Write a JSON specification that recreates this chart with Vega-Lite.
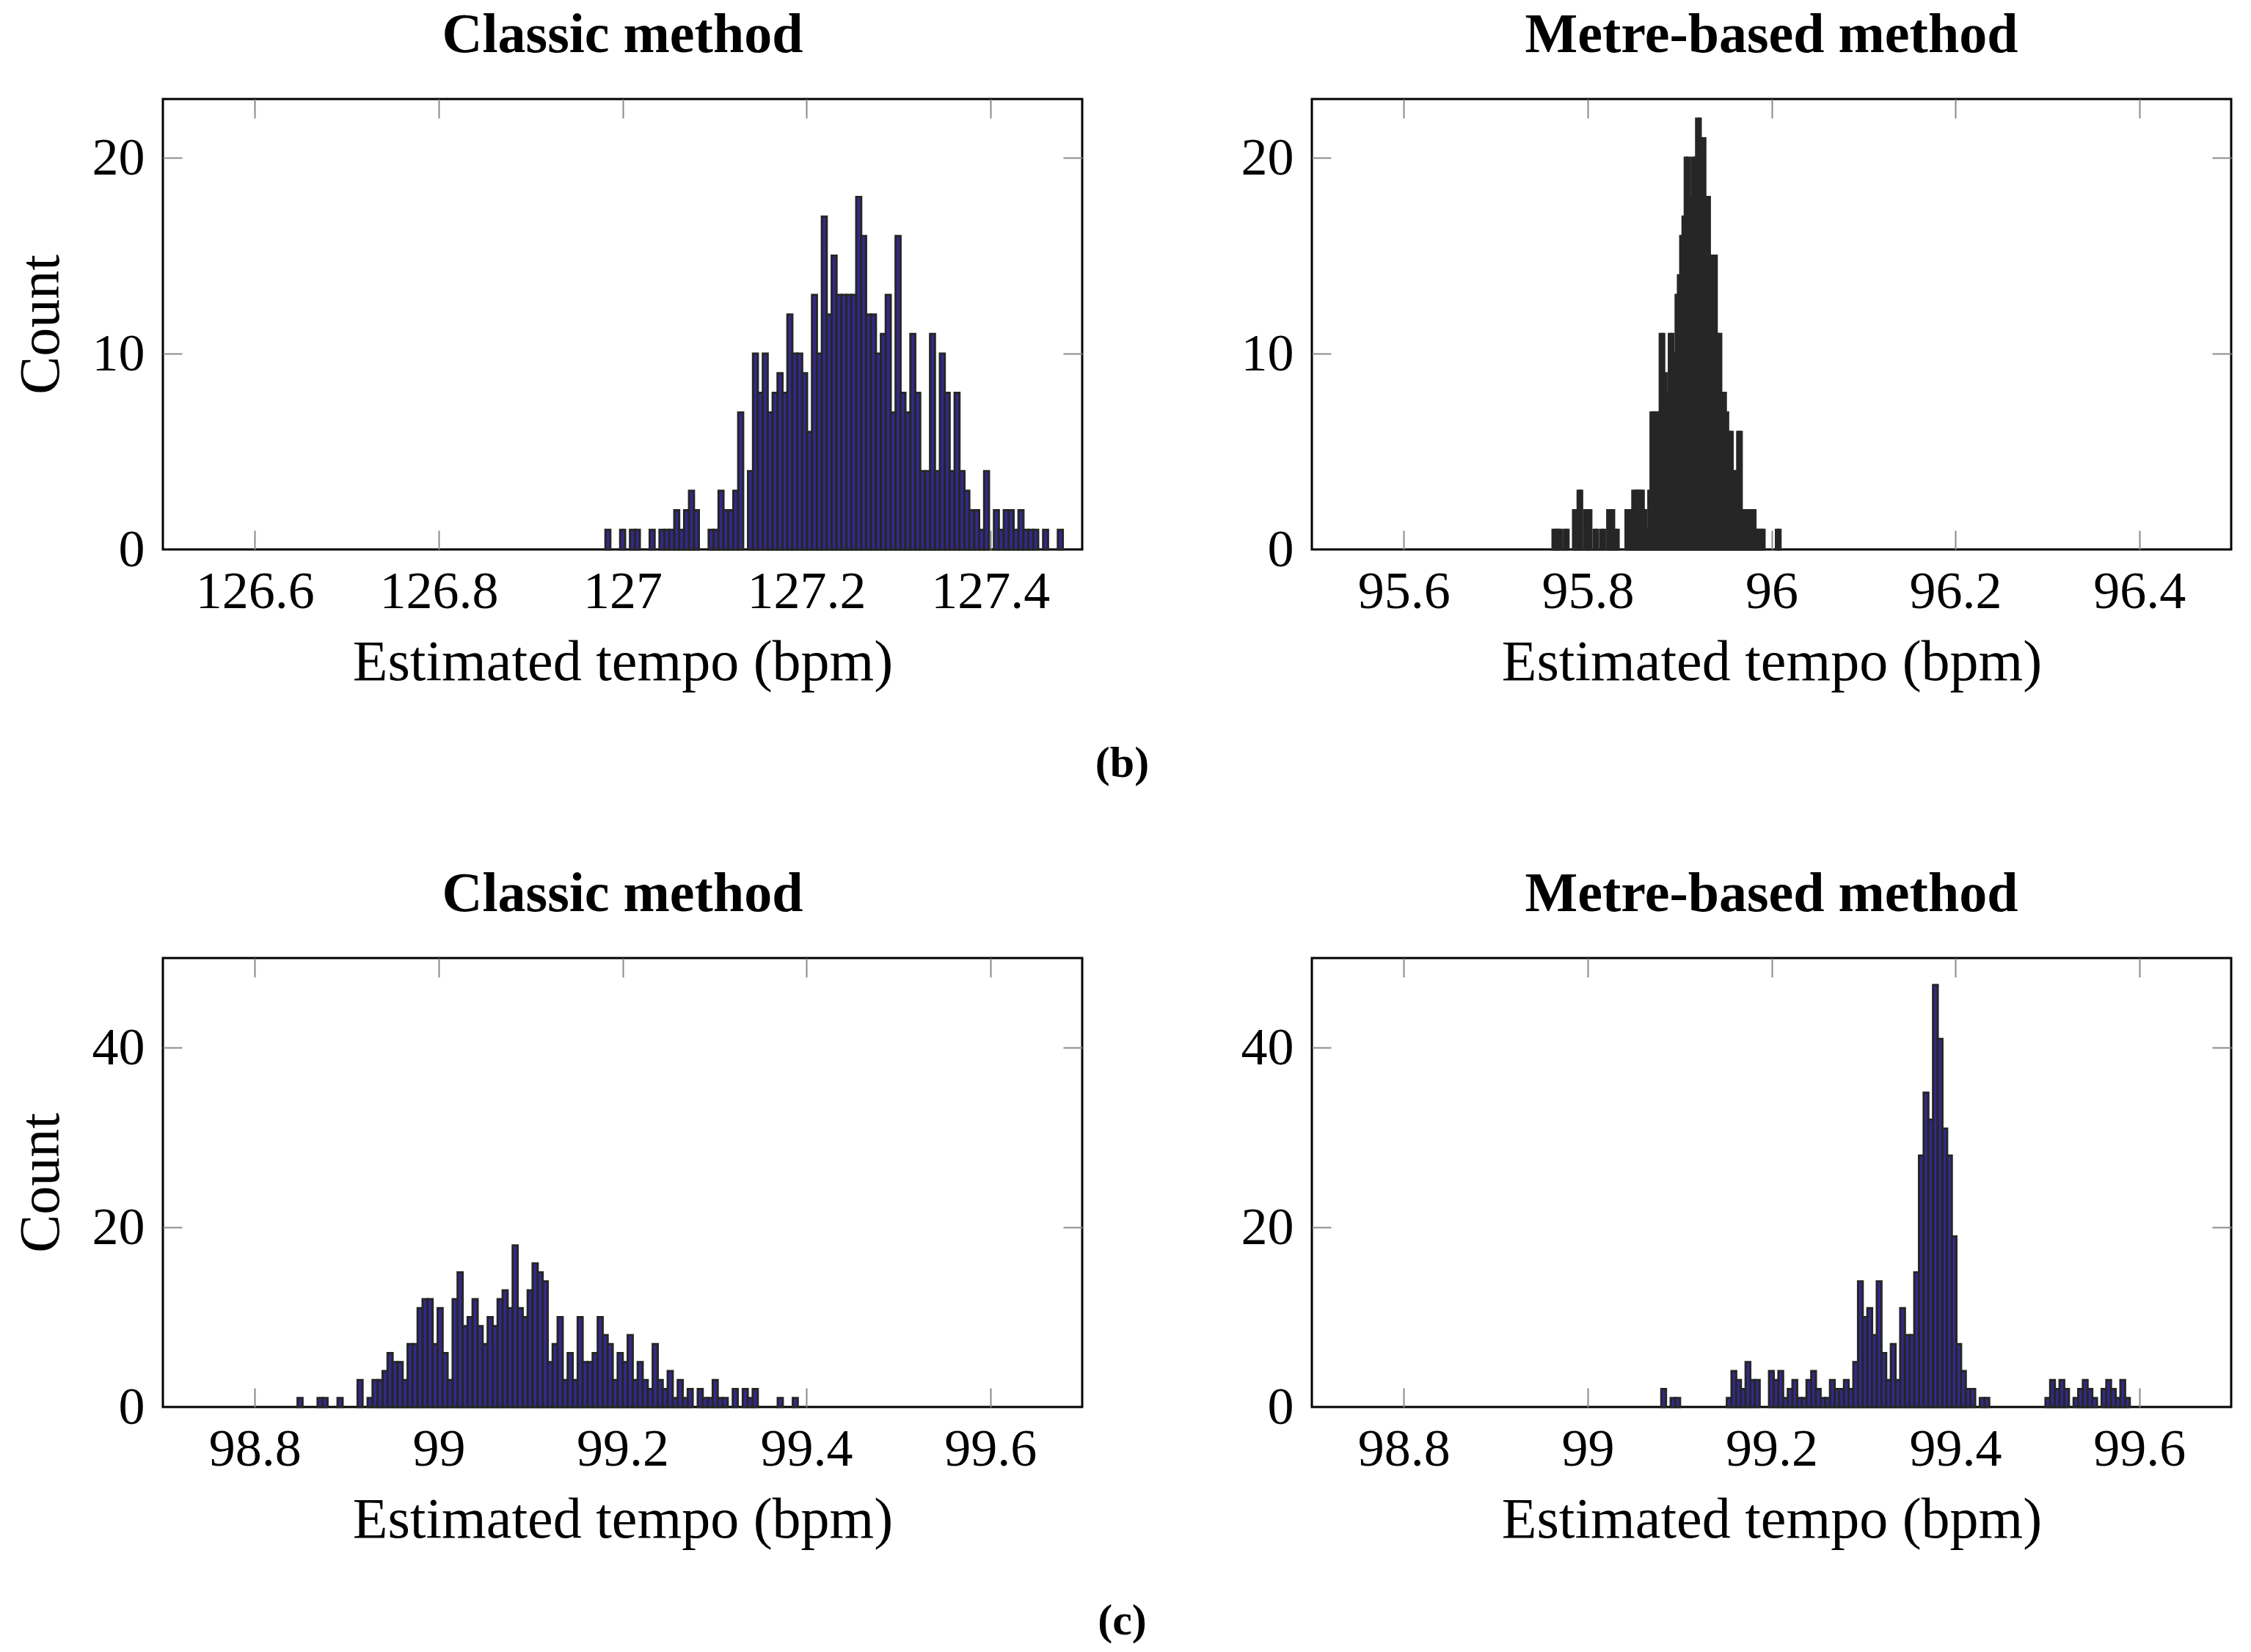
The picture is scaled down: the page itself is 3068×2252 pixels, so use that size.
{
  "$schema": "https://vega.github.io/schema/vega-lite/v6.json",
  "background": "white",
  "padding": {"left": 15, "top": 8, "right": 0, "bottom": 0},
  "config": {
    "font": "Liberation Serif",
    "view": {"stroke": "#000000", "strokeWidth": 3},
    "title": {"font": "Liberation Serif", "fontSize": 76, "fontWeight": "bold", "color": "#000000", "offset": 47, "anchor": "middle"},
    "axis": {
      "domain": false, "grid": false,
      "tickColor": "#8a8a8a", "tickWidth": 2, "tickSize": -26,
      "labelFont": "Liberation Serif", "labelFontSize": 72, "labelColor": "#000000", "labelPadding": 48,
      "labelOverlap": false, "labelFlush": false,
      "titleFont": "Liberation Serif", "titleFontSize": 78, "titleFontWeight": "normal", "titleColor": "#000000"
    },
    "axisX": {"titlePadding": 22},
    "axisY": {"labelPadding": 51, "titlePadding": 30}
  },
  "datasets": {
    "b_classic": [
      {"lo": 126.9814, "hi": 126.9867, "n": 1}, {"lo": 126.9974, "hi": 127.0028, "n": 1},
      {"lo": 127.0081, "hi": 127.0135, "n": 1}, {"lo": 127.0135, "hi": 127.0188, "n": 1},
      {"lo": 127.0295, "hi": 127.0349, "n": 1}, {"lo": 127.0402, "hi": 127.0456, "n": 1},
      {"lo": 127.0456, "hi": 127.0509, "n": 1}, {"lo": 127.0509, "hi": 127.0563, "n": 1},
      {"lo": 127.0563, "hi": 127.0616, "n": 2}, {"lo": 127.0616, "hi": 127.0670, "n": 1},
      {"lo": 127.0670, "hi": 127.0723, "n": 2}, {"lo": 127.0723, "hi": 127.0777, "n": 3},
      {"lo": 127.0777, "hi": 127.0830, "n": 2}, {"lo": 127.0937, "hi": 127.0991, "n": 1},
      {"lo": 127.0991, "hi": 127.1044, "n": 1}, {"lo": 127.1044, "hi": 127.1098, "n": 3},
      {"lo": 127.1098, "hi": 127.1151, "n": 2}, {"lo": 127.1151, "hi": 127.1205, "n": 2},
      {"lo": 127.1205, "hi": 127.1258, "n": 3}, {"lo": 127.1258, "hi": 127.1312, "n": 7},
      {"lo": 127.1365, "hi": 127.1419, "n": 4}, {"lo": 127.1419, "hi": 127.1472, "n": 10},
      {"lo": 127.1472, "hi": 127.1526, "n": 8}, {"lo": 127.1526, "hi": 127.1579, "n": 10},
      {"lo": 127.1579, "hi": 127.1633, "n": 7}, {"lo": 127.1633, "hi": 127.1686, "n": 8},
      {"lo": 127.1686, "hi": 127.1740, "n": 9}, {"lo": 127.1740, "hi": 127.1793, "n": 8},
      {"lo": 127.1793, "hi": 127.1847, "n": 12}, {"lo": 127.1847, "hi": 127.1900, "n": 10},
      {"lo": 127.1900, "hi": 127.1954, "n": 10}, {"lo": 127.1954, "hi": 127.2007, "n": 9},
      {"lo": 127.2007, "hi": 127.2061, "n": 6}, {"lo": 127.2061, "hi": 127.2114, "n": 13},
      {"lo": 127.2114, "hi": 127.2168, "n": 10}, {"lo": 127.2168, "hi": 127.2221, "n": 17},
      {"lo": 127.2221, "hi": 127.2275, "n": 12}, {"lo": 127.2275, "hi": 127.2328, "n": 15},
      {"lo": 127.2328, "hi": 127.2382, "n": 13}, {"lo": 127.2382, "hi": 127.2435, "n": 13},
      {"lo": 127.2435, "hi": 127.2489, "n": 13}, {"lo": 127.2489, "hi": 127.2542, "n": 13},
      {"lo": 127.2542, "hi": 127.2596, "n": 18}, {"lo": 127.2596, "hi": 127.2649, "n": 16},
      {"lo": 127.2649, "hi": 127.2703, "n": 12}, {"lo": 127.2703, "hi": 127.2756, "n": 12},
      {"lo": 127.2756, "hi": 127.2810, "n": 10}, {"lo": 127.2810, "hi": 127.2863, "n": 11},
      {"lo": 127.2863, "hi": 127.2917, "n": 13}, {"lo": 127.2917, "hi": 127.2970, "n": 7},
      {"lo": 127.2970, "hi": 127.3024, "n": 16}, {"lo": 127.3024, "hi": 127.3077, "n": 8},
      {"lo": 127.3077, "hi": 127.3131, "n": 7}, {"lo": 127.3131, "hi": 127.3184, "n": 11},
      {"lo": 127.3184, "hi": 127.3238, "n": 8}, {"lo": 127.3238, "hi": 127.3291, "n": 4},
      {"lo": 127.3291, "hi": 127.3345, "n": 4}, {"lo": 127.3345, "hi": 127.3398, "n": 11},
      {"lo": 127.3398, "hi": 127.3452, "n": 4}, {"lo": 127.3452, "hi": 127.3505, "n": 10},
      {"lo": 127.3505, "hi": 127.3558, "n": 8}, {"lo": 127.3558, "hi": 127.3612, "n": 4},
      {"lo": 127.3612, "hi": 127.3665, "n": 8}, {"lo": 127.3665, "hi": 127.3719, "n": 4},
      {"lo": 127.3719, "hi": 127.3772, "n": 3}, {"lo": 127.3772, "hi": 127.3826, "n": 2},
      {"lo": 127.3826, "hi": 127.3879, "n": 2}, {"lo": 127.3879, "hi": 127.3933, "n": 1},
      {"lo": 127.3933, "hi": 127.3986, "n": 4}, {"lo": 127.4040, "hi": 127.4093, "n": 2},
      {"lo": 127.4093, "hi": 127.4147, "n": 1}, {"lo": 127.4147, "hi": 127.4200, "n": 2},
      {"lo": 127.4200, "hi": 127.4254, "n": 2}, {"lo": 127.4254, "hi": 127.4307, "n": 1},
      {"lo": 127.4307, "hi": 127.4361, "n": 2}, {"lo": 127.4361, "hi": 127.4414, "n": 1},
      {"lo": 127.4414, "hi": 127.4468, "n": 1}, {"lo": 127.4468, "hi": 127.4521, "n": 1},
      {"lo": 127.4575, "hi": 127.4628, "n": 1}, {"lo": 127.4735, "hi": 127.4789, "n": 1}
    ],
    "b_metre": [
      {"lo": 95.7618, "hi": 95.7643, "n": 1}, {"lo": 95.7643, "hi": 95.7668, "n": 1},
      {"lo": 95.7668, "hi": 95.7692, "n": 1}, {"lo": 95.7692, "hi": 95.7717, "n": 1},
      {"lo": 95.7742, "hi": 95.7767, "n": 1}, {"lo": 95.7767, "hi": 95.7792, "n": 1},
      {"lo": 95.7841, "hi": 95.7866, "n": 2}, {"lo": 95.7866, "hi": 95.7891, "n": 2},
      {"lo": 95.7891, "hi": 95.7916, "n": 3}, {"lo": 95.7916, "hi": 95.7940, "n": 3},
      {"lo": 95.7965, "hi": 95.7990, "n": 2}, {"lo": 95.7990, "hi": 95.8015, "n": 2},
      {"lo": 95.8015, "hi": 95.8040, "n": 2}, {"lo": 95.8064, "hi": 95.8089, "n": 1},
      {"lo": 95.8089, "hi": 95.8114, "n": 1}, {"lo": 95.8139, "hi": 95.8164, "n": 1},
      {"lo": 95.8164, "hi": 95.8188, "n": 1}, {"lo": 95.8213, "hi": 95.8238, "n": 2},
      {"lo": 95.8238, "hi": 95.8263, "n": 2}, {"lo": 95.8263, "hi": 95.8288, "n": 2},
      {"lo": 95.8288, "hi": 95.8312, "n": 1}, {"lo": 95.8312, "hi": 95.8337, "n": 1},
      {"lo": 95.8412, "hi": 95.8436, "n": 2}, {"lo": 95.8436, "hi": 95.8461, "n": 2},
      {"lo": 95.8461, "hi": 95.8486, "n": 2}, {"lo": 95.8486, "hi": 95.8511, "n": 3},
      {"lo": 95.8511, "hi": 95.8536, "n": 3}, {"lo": 95.8536, "hi": 95.8560, "n": 3},
      {"lo": 95.8560, "hi": 95.8585, "n": 3}, {"lo": 95.8585, "hi": 95.8610, "n": 3},
      {"lo": 95.8610, "hi": 95.8635, "n": 2}, {"lo": 95.8635, "hi": 95.8660, "n": 1},
      {"lo": 95.8660, "hi": 95.8684, "n": 3}, {"lo": 95.8684, "hi": 95.8709, "n": 7},
      {"lo": 95.8709, "hi": 95.8734, "n": 7}, {"lo": 95.8734, "hi": 95.8759, "n": 7},
      {"lo": 95.8759, "hi": 95.8784, "n": 7}, {"lo": 95.8784, "hi": 95.8808, "n": 11},
      {"lo": 95.8808, "hi": 95.8833, "n": 11}, {"lo": 95.8833, "hi": 95.8858, "n": 9},
      {"lo": 95.8858, "hi": 95.8883, "n": 8}, {"lo": 95.8883, "hi": 95.8908, "n": 11},
      {"lo": 95.8908, "hi": 95.8932, "n": 11}, {"lo": 95.8932, "hi": 95.8957, "n": 10},
      {"lo": 95.8957, "hi": 95.8982, "n": 13}, {"lo": 95.8982, "hi": 95.9007, "n": 14},
      {"lo": 95.9007, "hi": 95.9032, "n": 16}, {"lo": 95.9032, "hi": 95.9056, "n": 17},
      {"lo": 95.9056, "hi": 95.9081, "n": 20}, {"lo": 95.9081, "hi": 95.9106, "n": 20},
      {"lo": 95.9106, "hi": 95.9131, "n": 18}, {"lo": 95.9131, "hi": 95.9156, "n": 20},
      {"lo": 95.9156, "hi": 95.9180, "n": 20}, {"lo": 95.9180, "hi": 95.9205, "n": 22},
      {"lo": 95.9205, "hi": 95.9230, "n": 22}, {"lo": 95.9230, "hi": 95.9255, "n": 21},
      {"lo": 95.9255, "hi": 95.9280, "n": 21}, {"lo": 95.9280, "hi": 95.9304, "n": 18},
      {"lo": 95.9304, "hi": 95.9329, "n": 18}, {"lo": 95.9329, "hi": 95.9354, "n": 15},
      {"lo": 95.9354, "hi": 95.9379, "n": 15}, {"lo": 95.9379, "hi": 95.9404, "n": 15},
      {"lo": 95.9404, "hi": 95.9428, "n": 11}, {"lo": 95.9428, "hi": 95.9453, "n": 11},
      {"lo": 95.9453, "hi": 95.9478, "n": 8}, {"lo": 95.9478, "hi": 95.9503, "n": 8},
      {"lo": 95.9503, "hi": 95.9528, "n": 7}, {"lo": 95.9528, "hi": 95.9552, "n": 6},
      {"lo": 95.9552, "hi": 95.9577, "n": 6}, {"lo": 95.9577, "hi": 95.9602, "n": 4},
      {"lo": 95.9602, "hi": 95.9627, "n": 4}, {"lo": 95.9627, "hi": 95.9652, "n": 6},
      {"lo": 95.9652, "hi": 95.9676, "n": 6}, {"lo": 95.9676, "hi": 95.9701, "n": 2},
      {"lo": 95.9701, "hi": 95.9726, "n": 2}, {"lo": 95.9726, "hi": 95.9751, "n": 2},
      {"lo": 95.9751, "hi": 95.9776, "n": 2}, {"lo": 95.9776, "hi": 95.9800, "n": 2},
      {"lo": 95.9800, "hi": 95.9825, "n": 2}, {"lo": 95.9825, "hi": 95.9850, "n": 1},
      {"lo": 95.9850, "hi": 95.9875, "n": 1}, {"lo": 95.9875, "hi": 95.9900, "n": 1},
      {"lo": 95.9900, "hi": 95.9924, "n": 1}, {"lo": 96.0048, "hi": 96.0073, "n": 1},
      {"lo": 96.0073, "hi": 96.0098, "n": 1}
    ],
    "c_classic": [
      {"lo": 98.8465, "hi": 98.8519, "n": 1}, {"lo": 98.8683, "hi": 98.8737, "n": 1},
      {"lo": 98.8737, "hi": 98.8791, "n": 1}, {"lo": 98.8900, "hi": 98.8955, "n": 1},
      {"lo": 98.9118, "hi": 98.9172, "n": 3}, {"lo": 98.9227, "hi": 98.9281, "n": 1},
      {"lo": 98.9281, "hi": 98.9336, "n": 3}, {"lo": 98.9336, "hi": 98.9390, "n": 3},
      {"lo": 98.9390, "hi": 98.9444, "n": 4}, {"lo": 98.9444, "hi": 98.9499, "n": 6},
      {"lo": 98.9499, "hi": 98.9553, "n": 5}, {"lo": 98.9553, "hi": 98.9608, "n": 5},
      {"lo": 98.9608, "hi": 98.9662, "n": 3}, {"lo": 98.9662, "hi": 98.9716, "n": 7},
      {"lo": 98.9716, "hi": 98.9771, "n": 7}, {"lo": 98.9771, "hi": 98.9825, "n": 11},
      {"lo": 98.9825, "hi": 98.9880, "n": 12}, {"lo": 98.9880, "hi": 98.9934, "n": 12},
      {"lo": 98.9934, "hi": 98.9989, "n": 7}, {"lo": 98.9989, "hi": 99.0043, "n": 11},
      {"lo": 99.0043, "hi": 99.0097, "n": 6}, {"lo": 99.0097, "hi": 99.0152, "n": 3},
      {"lo": 99.0152, "hi": 99.0206, "n": 12}, {"lo": 99.0206, "hi": 99.0261, "n": 15},
      {"lo": 99.0261, "hi": 99.0315, "n": 9}, {"lo": 99.0315, "hi": 99.0369, "n": 10},
      {"lo": 99.0369, "hi": 99.0424, "n": 12}, {"lo": 99.0424, "hi": 99.0478, "n": 9},
      {"lo": 99.0478, "hi": 99.0533, "n": 7}, {"lo": 99.0533, "hi": 99.0587, "n": 10},
      {"lo": 99.0587, "hi": 99.0641, "n": 9}, {"lo": 99.0641, "hi": 99.0696, "n": 12},
      {"lo": 99.0696, "hi": 99.0750, "n": 13}, {"lo": 99.0750, "hi": 99.0805, "n": 11},
      {"lo": 99.0805, "hi": 99.0859, "n": 18}, {"lo": 99.0859, "hi": 99.0914, "n": 11},
      {"lo": 99.0914, "hi": 99.0968, "n": 10}, {"lo": 99.0968, "hi": 99.1022, "n": 13},
      {"lo": 99.1022, "hi": 99.1077, "n": 16}, {"lo": 99.1077, "hi": 99.1131, "n": 15},
      {"lo": 99.1131, "hi": 99.1186, "n": 14}, {"lo": 99.1186, "hi": 99.1240, "n": 5},
      {"lo": 99.1240, "hi": 99.1294, "n": 7}, {"lo": 99.1294, "hi": 99.1349, "n": 10},
      {"lo": 99.1349, "hi": 99.1403, "n": 3}, {"lo": 99.1403, "hi": 99.1458, "n": 6},
      {"lo": 99.1458, "hi": 99.1512, "n": 3}, {"lo": 99.1512, "hi": 99.1566, "n": 10},
      {"lo": 99.1566, "hi": 99.1621, "n": 5}, {"lo": 99.1621, "hi": 99.1675, "n": 5},
      {"lo": 99.1675, "hi": 99.1730, "n": 6}, {"lo": 99.1730, "hi": 99.1784, "n": 10},
      {"lo": 99.1784, "hi": 99.1838, "n": 8}, {"lo": 99.1838, "hi": 99.1893, "n": 7},
      {"lo": 99.1893, "hi": 99.1947, "n": 3}, {"lo": 99.1947, "hi": 99.2002, "n": 6},
      {"lo": 99.2002, "hi": 99.2056, "n": 5}, {"lo": 99.2056, "hi": 99.2111, "n": 8},
      {"lo": 99.2111, "hi": 99.2165, "n": 3}, {"lo": 99.2165, "hi": 99.2219, "n": 5},
      {"lo": 99.2219, "hi": 99.2274, "n": 3}, {"lo": 99.2274, "hi": 99.2328, "n": 2},
      {"lo": 99.2328, "hi": 99.2383, "n": 7}, {"lo": 99.2383, "hi": 99.2437, "n": 3},
      {"lo": 99.2437, "hi": 99.2491, "n": 2}, {"lo": 99.2491, "hi": 99.2546, "n": 4},
      {"lo": 99.2546, "hi": 99.2600, "n": 1}, {"lo": 99.2600, "hi": 99.2655, "n": 3},
      {"lo": 99.2655, "hi": 99.2709, "n": 1}, {"lo": 99.2709, "hi": 99.2763, "n": 2},
      {"lo": 99.2818, "hi": 99.2872, "n": 2}, {"lo": 99.2872, "hi": 99.2927, "n": 1},
      {"lo": 99.2927, "hi": 99.2981, "n": 1}, {"lo": 99.2981, "hi": 99.3035, "n": 3},
      {"lo": 99.3035, "hi": 99.3090, "n": 1}, {"lo": 99.3090, "hi": 99.3144, "n": 1},
      {"lo": 99.3199, "hi": 99.3253, "n": 2}, {"lo": 99.3308, "hi": 99.3362, "n": 2},
      {"lo": 99.3362, "hi": 99.3416, "n": 1}, {"lo": 99.3416, "hi": 99.3471, "n": 2},
      {"lo": 99.3688, "hi": 99.3743, "n": 1}, {"lo": 99.3852, "hi": 99.3906, "n": 1}
    ],
    "c_metre": [
      {"lo": 99.0801, "hi": 99.0852, "n": 2}, {"lo": 99.0903, "hi": 99.0954, "n": 1},
      {"lo": 99.0954, "hi": 99.1005, "n": 1}, {"lo": 99.1514, "hi": 99.1565, "n": 1},
      {"lo": 99.1565, "hi": 99.1616, "n": 4}, {"lo": 99.1616, "hi": 99.1667, "n": 3},
      {"lo": 99.1667, "hi": 99.1718, "n": 2}, {"lo": 99.1718, "hi": 99.1769, "n": 5},
      {"lo": 99.1769, "hi": 99.1820, "n": 3}, {"lo": 99.1820, "hi": 99.1871, "n": 3},
      {"lo": 99.1973, "hi": 99.2024, "n": 4}, {"lo": 99.2024, "hi": 99.2075, "n": 3},
      {"lo": 99.2075, "hi": 99.2126, "n": 4}, {"lo": 99.2126, "hi": 99.2177, "n": 1},
      {"lo": 99.2177, "hi": 99.2228, "n": 2}, {"lo": 99.2228, "hi": 99.2279, "n": 3},
      {"lo": 99.2279, "hi": 99.2330, "n": 1}, {"lo": 99.2330, "hi": 99.2381, "n": 1},
      {"lo": 99.2381, "hi": 99.2432, "n": 3}, {"lo": 99.2432, "hi": 99.2483, "n": 4},
      {"lo": 99.2483, "hi": 99.2534, "n": 2}, {"lo": 99.2534, "hi": 99.2585, "n": 1},
      {"lo": 99.2585, "hi": 99.2636, "n": 1}, {"lo": 99.2636, "hi": 99.2687, "n": 3},
      {"lo": 99.2687, "hi": 99.2737, "n": 2}, {"lo": 99.2737, "hi": 99.2788, "n": 2},
      {"lo": 99.2788, "hi": 99.2839, "n": 3}, {"lo": 99.2839, "hi": 99.2890, "n": 2},
      {"lo": 99.2890, "hi": 99.2941, "n": 5}, {"lo": 99.2941, "hi": 99.2992, "n": 14},
      {"lo": 99.2992, "hi": 99.3043, "n": 10}, {"lo": 99.3043, "hi": 99.3094, "n": 11},
      {"lo": 99.3094, "hi": 99.3145, "n": 8}, {"lo": 99.3145, "hi": 99.3196, "n": 14},
      {"lo": 99.3196, "hi": 99.3247, "n": 6}, {"lo": 99.3247, "hi": 99.3298, "n": 3},
      {"lo": 99.3298, "hi": 99.3349, "n": 7}, {"lo": 99.3349, "hi": 99.3400, "n": 3},
      {"lo": 99.3400, "hi": 99.3451, "n": 11}, {"lo": 99.3451, "hi": 99.3502, "n": 8},
      {"lo": 99.3502, "hi": 99.3553, "n": 8}, {"lo": 99.3553, "hi": 99.3604, "n": 15},
      {"lo": 99.3604, "hi": 99.3655, "n": 28}, {"lo": 99.3655, "hi": 99.3706, "n": 35},
      {"lo": 99.3706, "hi": 99.3757, "n": 32}, {"lo": 99.3757, "hi": 99.3808, "n": 47},
      {"lo": 99.3808, "hi": 99.3859, "n": 41}, {"lo": 99.3859, "hi": 99.3910, "n": 31},
      {"lo": 99.3910, "hi": 99.3961, "n": 28}, {"lo": 99.3961, "hi": 99.4011, "n": 19},
      {"lo": 99.4011, "hi": 99.4062, "n": 7}, {"lo": 99.4062, "hi": 99.4113, "n": 4},
      {"lo": 99.4113, "hi": 99.4164, "n": 2}, {"lo": 99.4164, "hi": 99.4215, "n": 2},
      {"lo": 99.4266, "hi": 99.4317, "n": 1}, {"lo": 99.4317, "hi": 99.4368, "n": 1},
      {"lo": 99.4980, "hi": 99.5031, "n": 1}, {"lo": 99.5031, "hi": 99.5082, "n": 3},
      {"lo": 99.5082, "hi": 99.5133, "n": 2}, {"lo": 99.5133, "hi": 99.5184, "n": 3},
      {"lo": 99.5184, "hi": 99.5235, "n": 2}, {"lo": 99.5286, "hi": 99.5336, "n": 1},
      {"lo": 99.5336, "hi": 99.5387, "n": 2}, {"lo": 99.5387, "hi": 99.5438, "n": 3},
      {"lo": 99.5438, "hi": 99.5489, "n": 2}, {"lo": 99.5489, "hi": 99.5540, "n": 1},
      {"lo": 99.5591, "hi": 99.5642, "n": 2}, {"lo": 99.5642, "hi": 99.5693, "n": 3},
      {"lo": 99.5693, "hi": 99.5744, "n": 2}, {"lo": 99.5744, "hi": 99.5795, "n": 1},
      {"lo": 99.5795, "hi": 99.5846, "n": 3}, {"lo": 99.5846, "hi": 99.5897, "n": 1}
    ]
  },
  "spacing": 108,
  "vconcat": [
    {
      "title": {"text": "(b)", "orient": "bottom", "fontSize": 60, "offset": 68},
      "spacing": 211,
      "hconcat": [
        {
          "width": 1253, "height": 614,
          "title": "Classic method",
          "data": {"name": "b_classic"},
          "layer": [
            {
              "mark": {"type": "bar", "fill": "#33298c", "stroke": "#262626", "strokeWidth": 3},
              "encoding": {
                "x": {"field": "lo", "type": "quantitative", "scale": {"domain": [126.5, 127.5], "nice": false, "zero": false},
                      "axis": {"values": [126.6, 126.8, 127, 127.2, 127.4], "format": "~g", "title": "Estimated tempo (bpm)"}},
                "x2": {"field": "hi"},
                "y": {"field": "n", "type": "quantitative", "scale": {"domain": [0, 23], "nice": false},
                      "axis": {"values": [0, 10, 20], "title": "Count", "tickOpacity": {"condition": {"test": "datum.value === 0", "value": 0}, "value": 1}}},
                "y2": {"datum": 0}
              }
            },
            {
              "mark": {"type": "bar", "opacity": 0},
              "encoding": {
                "x": {"field": "lo", "type": "quantitative", "axis": {"orient": "top", "values": [126.6, 126.8, 127, 127.2, 127.4], "labels": false, "title": null}},
                "x2": {"field": "hi"},
                "y": {"field": "n", "type": "quantitative", "axis": {"orient": "right", "values": [0, 10, 20], "labels": false, "title": null, "tickOpacity": {"condition": {"test": "datum.value === 0", "value": 0}, "value": 1}}},
                "y2": {"datum": 0}
              }
            }
          ],
          "resolve": {"axis": {"x": "independent", "y": "independent"}}
        },
        {
          "width": 1253, "height": 614,
          "title": "Metre-based method",
          "data": {"name": "b_metre"},
          "layer": [
            {
              "mark": {"type": "bar", "fill": "#262626", "stroke": "#262626", "strokeWidth": 3},
              "encoding": {
                "x": {"field": "lo", "type": "quantitative", "scale": {"domain": [95.5, 96.5], "nice": false, "zero": false},
                      "axis": {"values": [95.6, 95.8, 96, 96.2, 96.4], "format": "~g", "title": "Estimated tempo (bpm)"}},
                "x2": {"field": "hi"},
                "y": {"field": "n", "type": "quantitative", "scale": {"domain": [0, 23], "nice": false},
                      "axis": {"values": [0, 10, 20], "title": null, "tickOpacity": {"condition": {"test": "datum.value === 0", "value": 0}, "value": 1}}},
                "y2": {"datum": 0}
              }
            },
            {
              "mark": {"type": "bar", "opacity": 0},
              "encoding": {
                "x": {"field": "lo", "type": "quantitative", "axis": {"orient": "top", "values": [95.6, 95.8, 96, 96.2, 96.4], "labels": false, "title": null}},
                "x2": {"field": "hi"},
                "y": {"field": "n", "type": "quantitative", "axis": {"orient": "right", "values": [0, 10, 20], "labels": false, "title": null, "tickOpacity": {"condition": {"test": "datum.value === 0", "value": 0}, "value": 1}}},
                "y2": {"datum": 0}
              }
            }
          ],
          "resolve": {"axis": {"x": "independent", "y": "independent"}}
        }
      ]
    },
    {
      "title": {"text": "(c)", "orient": "bottom", "fontSize": 60, "offset": 68},
      "spacing": 211,
      "hconcat": [
        {
          "width": 1253, "height": 612,
          "title": "Classic method",
          "data": {"name": "c_classic"},
          "layer": [
            {
              "mark": {"type": "bar", "fill": "#33298c", "stroke": "#262626", "strokeWidth": 3},
              "encoding": {
                "x": {"field": "lo", "type": "quantitative", "scale": {"domain": [98.7, 99.7], "nice": false, "zero": false},
                      "axis": {"values": [98.8, 99, 99.2, 99.4, 99.6], "format": "~g", "title": "Estimated tempo (bpm)"}},
                "x2": {"field": "hi"},
                "y": {"field": "n", "type": "quantitative", "scale": {"domain": [0, 50], "nice": false},
                      "axis": {"values": [0, 20, 40], "title": "Count", "tickOpacity": {"condition": {"test": "datum.value === 0", "value": 0}, "value": 1}}},
                "y2": {"datum": 0}
              }
            },
            {
              "mark": {"type": "bar", "opacity": 0},
              "encoding": {
                "x": {"field": "lo", "type": "quantitative", "axis": {"orient": "top", "values": [98.8, 99, 99.2, 99.4, 99.6], "labels": false, "title": null}},
                "x2": {"field": "hi"},
                "y": {"field": "n", "type": "quantitative", "axis": {"orient": "right", "values": [0, 20, 40], "labels": false, "title": null, "tickOpacity": {"condition": {"test": "datum.value === 0", "value": 0}, "value": 1}}},
                "y2": {"datum": 0}
              }
            }
          ],
          "resolve": {"axis": {"x": "independent", "y": "independent"}}
        },
        {
          "width": 1253, "height": 612,
          "title": "Metre-based method",
          "data": {"name": "c_metre"},
          "layer": [
            {
              "mark": {"type": "bar", "fill": "#33298c", "stroke": "#262626", "strokeWidth": 3},
              "encoding": {
                "x": {"field": "lo", "type": "quantitative", "scale": {"domain": [98.7, 99.7], "nice": false, "zero": false},
                      "axis": {"values": [98.8, 99, 99.2, 99.4, 99.6], "format": "~g", "title": "Estimated tempo (bpm)"}},
                "x2": {"field": "hi"},
                "y": {"field": "n", "type": "quantitative", "scale": {"domain": [0, 50], "nice": false},
                      "axis": {"values": [0, 20, 40], "title": null, "tickOpacity": {"condition": {"test": "datum.value === 0", "value": 0}, "value": 1}}},
                "y2": {"datum": 0}
              }
            },
            {
              "mark": {"type": "bar", "opacity": 0},
              "encoding": {
                "x": {"field": "lo", "type": "quantitative", "axis": {"orient": "top", "values": [98.8, 99, 99.2, 99.4, 99.6], "labels": false, "title": null}},
                "x2": {"field": "hi"},
                "y": {"field": "n", "type": "quantitative", "axis": {"orient": "right", "values": [0, 20, 40], "labels": false, "title": null, "tickOpacity": {"condition": {"test": "datum.value === 0", "value": 0}, "value": 1}}},
                "y2": {"datum": 0}
              }
            }
          ],
          "resolve": {"axis": {"x": "independent", "y": "independent"}}
        }
      ]
    }
  ]
}
